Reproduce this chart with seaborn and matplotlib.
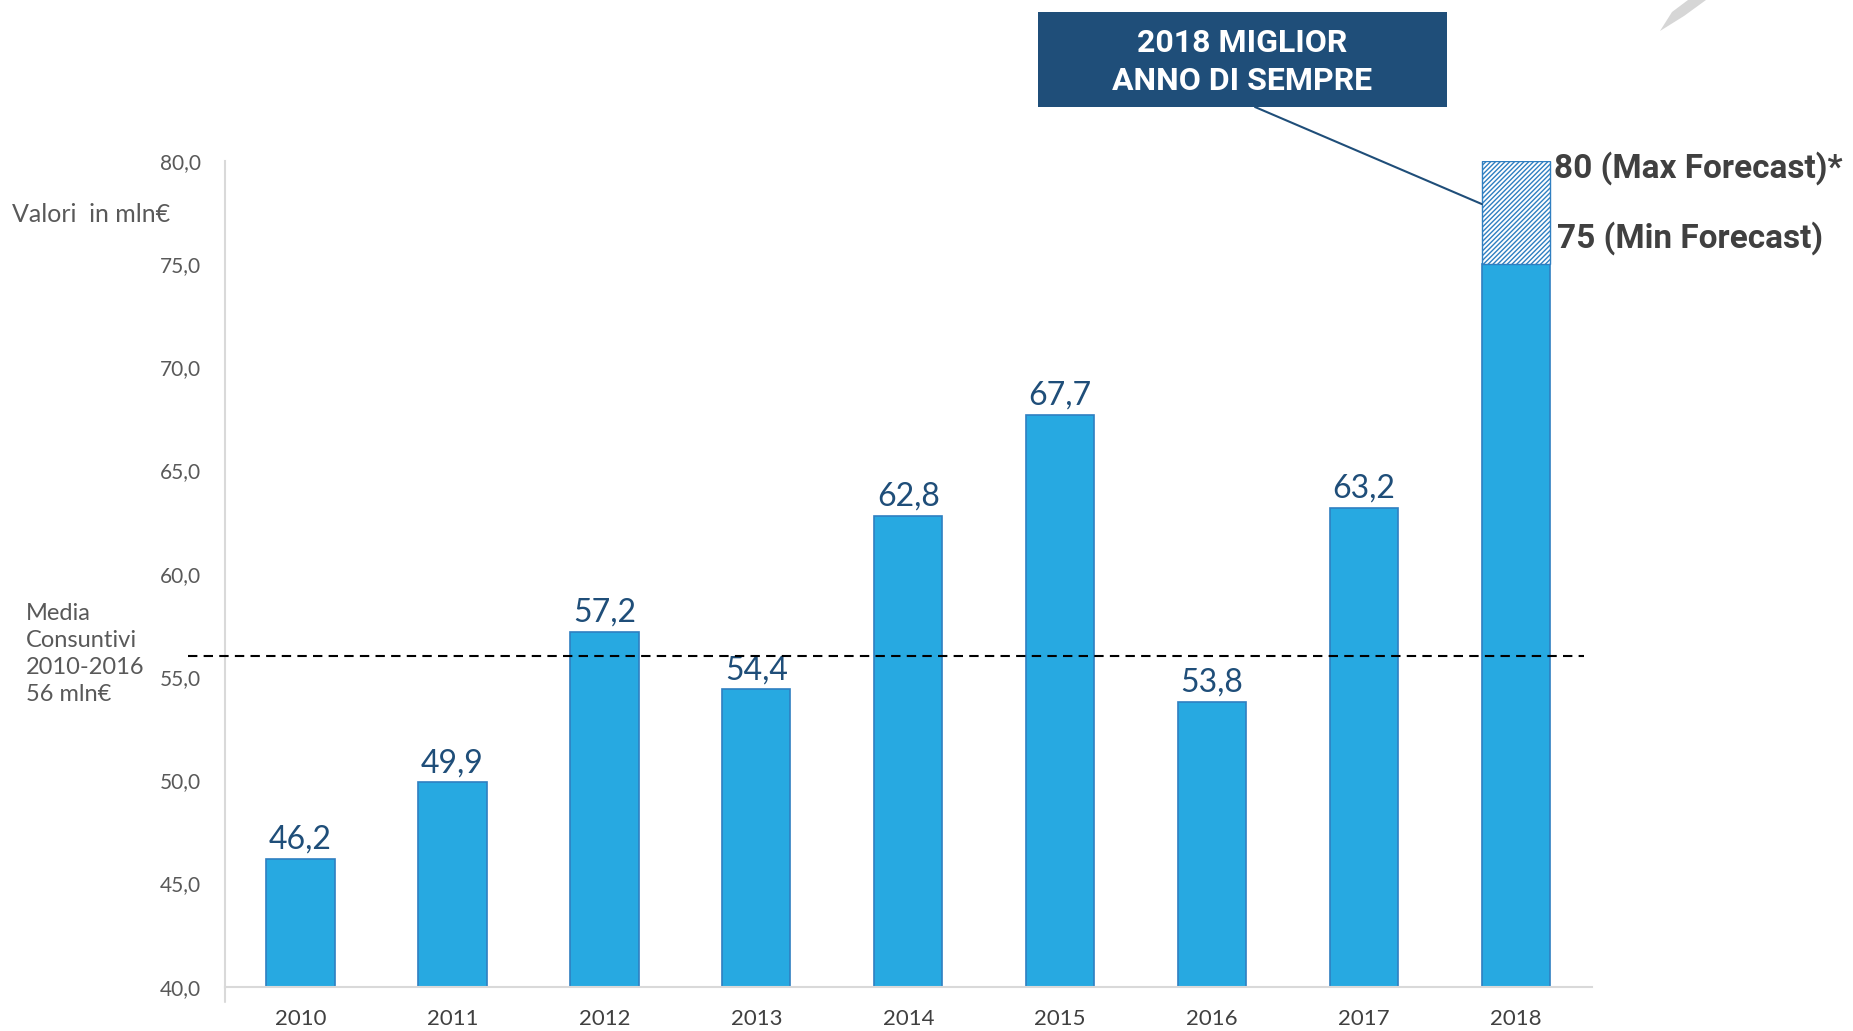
import matplotlib
matplotlib.use("Agg")
import matplotlib.pyplot as plt
from matplotlib.patches import Rectangle, Polygon, ConnectionPatch
import seaborn as sns
import pandas as pd

# Data
years = ["2010", "2011", "2012", "2013", "2014", "2015", "2016", "2017", "2018"]
values = [46.2, 49.9, 57.2, 54.4, 62.8, 67.7, 53.8, 63.2, 75.0]
forecast_min = 75.0
forecast_max = 80.0
avg_years = years[:7]
y_ticks = [40, 45, 50, 55, 60, 65, 70, 75, 80]

sns.set_theme(style="white")
plt.rcParams["font.family"] = ["Lato", "DejaVu Sans"]
plt.rcParams["hatch.linewidth"] = 1.0
plt.rcParams["hatch.color"] = "#2F7FC1"

W, H = 1853, 1031
fig = plt.figure(figsize=(W / 100, H / 100), dpi=100)
ax = fig.add_axes([224.5 / W, 1 - 986.8 / H, (1592 - 224.5) / W, (986.8 - 160.7) / H])

df = pd.DataFrame({"year": years, "value": values})
bar_fill = "#27A9E1"
bar_edge = "#2F7FC1"
sns.barplot(data=df, x="year", y="value", color=bar_fill, saturation=1,
            width=0.45, edgecolor=bar_edge, linewidth=1.2, ax=ax)

# Forecast range on top of the last bar
ax.bar(len(years) - 1, forecast_max - forecast_min, bottom=forecast_min, width=0.45,
       color="white", edgecolor=bar_edge, hatch="///////", linewidth=1.0, zorder=3)

ax.set_ylim(40, 80)
ax.set_xlim(-0.5, 8.5)
ax.set_yticks(y_ticks)
ax.set_yticklabels([f"{t:.1f}".replace(".", ",") for t in y_ticks])
ax.set_xlabel("")
ax.set_ylabel("")
ax.tick_params(axis="y", labelsize=15, labelcolor="#595959", length=0, pad=17)
ax.tick_params(axis="x", labelsize=16, labelcolor="#404040", length=0, pad=16)
for s in ["top", "right"]:
    ax.spines[s].set_visible(False)
for s in ["left", "bottom"]:
    ax.spines[s].set_color("#D9D9D9")
    ax.spines[s].set_linewidth(1.5)
# left axis line runs a little below the baseline
ax.plot([0, 0], [-0.018, 0], transform=ax.transAxes, color="#D9D9D9", lw=1.5, clip_on=False)

# Value labels (all actual years)
for i, v in enumerate(values[:-1]):
    ax.annotate(f"{v:.1f}".replace(".", ","), xy=(i, v), xytext=(0, 3),
                textcoords="offset points", ha="center", va="bottom",
                fontsize=23, color="#1F4E79")

# Average 2010-2016
avg = sum(values[:len(avg_years)]) / len(avg_years)
ax.plot([-0.74, 8.45], [avg, avg], color="black", lw=1.5, dashes=(4.5, 3),
        clip_on=False, zorder=4)

# Forecast labels
bold_font = ["Roboto", "DejaVu Sans"]
ax.annotate(f"{forecast_max:.0f} (Max Forecast)*", xy=(8.225, forecast_max), xytext=(3, -5),
            textcoords="offset points", ha="left", va="center", fontsize=24,
            fontweight="bold", color="#404040", family=bold_font, annotation_clip=False)
ax.annotate(f"{forecast_min:.0f} (Min Forecast)", xy=(8.225, forecast_min), xytext=(5, 19),
            textcoords="offset points", ha="left", va="center", fontsize=24,
            fontweight="bold", color="#404040", family=bold_font, annotation_clip=False)

# Side texts
fig.text(12 / W, 1 - 215 / H, "Valori  in mln€", fontsize=18, color="#595959",
         ha="left", va="center")
fig.text(26 / W, 1 - 603 / H, "Media\nConsuntivi\n2010-2016\n56 mln€", fontsize=17,
         color="#595959", ha="left", va="top", linespacing=1.36)

# Highlight box with connector
box_color = "#1F4E79"
fig.add_artist(Rectangle((1038 / W, 1 - 107 / H), (1447 - 1038) / W, (107 - 12) / H,
                         transform=fig.transFigure, facecolor=box_color, edgecolor="none"))
fig.text(1242 / W, 1 - 62 / H, "2018 MIGLIOR\nANNO DI SEMPRE", ha="center", va="center",
         fontsize=23, fontweight="bold", color="white", family=bold_font, linespacing=1.35)
con = ConnectionPatch(xyA=(1255 / W, 1 - 107 / H), coordsA=fig.transFigure,
                      xyB=(7.775, 77.9), coordsB=ax.transData,
                      color=box_color, lw=1.5)
fig.add_artist(con)

# Decorative swoosh in the corner
fig.add_artist(Polygon([(1688 / W, 1), (1706 / W, 1), (1684 / W, 1 - 16 / H),
                        (1660 / W, 1 - 31 / H), (1672 / W, 1 - 12 / H)],
                       closed=True, transform=fig.transFigure,
                       facecolor="#D6D6D6", edgecolor="none"))

fig.savefig("out.png", dpi=100)
